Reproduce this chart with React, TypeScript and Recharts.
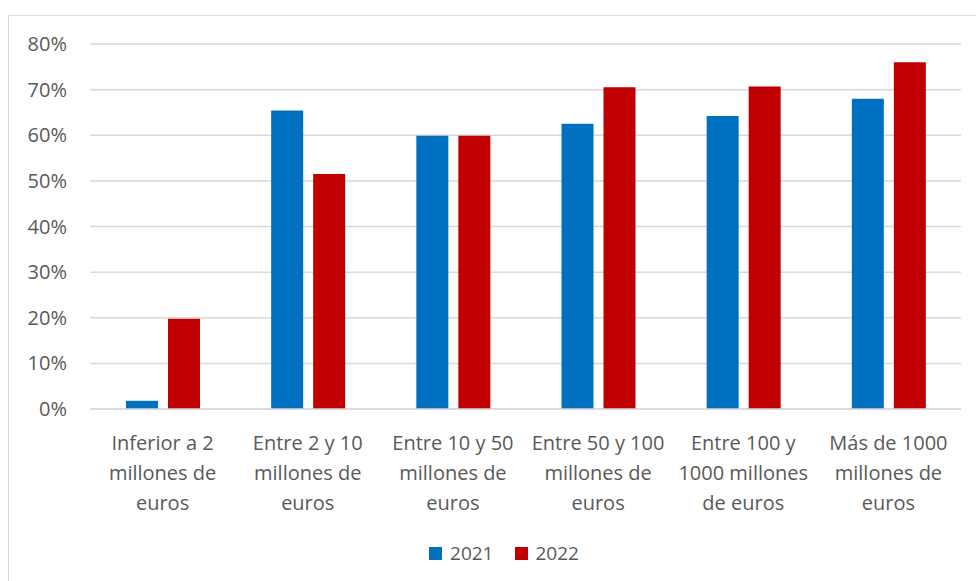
import { BarChart, Bar, XAxis, YAxis, CartesianGrid, Legend } from 'recharts';

const categories = [
  'Inferior a 2\nmillones de\neuros',
  'Entre 2 y 10\nmillones de\neuros',
  'Entre 10 y 50\nmillones de\neuros',
  'Entre 50 y 100\nmillones de\neuros',
  'Entre 100 y\n1000 millones\nde euros',
  'Más de 1000\nmillones de\neuros',
];
const values2021 = [1.8, 65.4, 59.9, 62.5, 64.2, 68.0];
const values2022 = [19.8, 51.5, 59.9, 70.5, 70.7, 76.0];
const yTicks = [0, 10, 20, 30, 40, 50, 60, 70, 80];

const FONT = '"Open Sans", sans-serif';
const TEXT = '#595959';

const data = categories.map((name, i) => ({
  name,
  y2021: values2021[i],
  y2022: values2022[i],
}));

// multi-line category labels
function CategoryTick(props: any) {
  const { x, y, payload } = props;
  const lines = String(payload.value).split('\n');
  return (
    <text x={x} y={y} textAnchor="middle" fill={TEXT} fontSize={20} fontFamily={FONT}>
      {lines.map((line, i) => (
        <tspan key={i} x={x} dy={i === 0 ? 41 : 30}>
          {line}
        </tspan>
      ))}
    </text>
  );
}

function LegendContent(props: any) {
  const { payload } = props;
  return (
    <div style={{ display: 'flex', justifyContent: 'center', alignItems: 'center', height: 20 }}>
      {payload.map((entry: any, i: number) => (
        <div key={i} style={{ display: 'flex', alignItems: 'center', marginLeft: i ? 21 : 0 }}>
          <span style={{ width: 13, height: 13, background: entry.color, display: 'inline-block', marginRight: 8 }} />
          <span style={{ color: TEXT, fontSize: 19, fontFamily: FONT, lineHeight: '20px' }}>{entry.value}</span>
        </div>
      ))}
    </div>
  );
}

export default function App() {
  return (
    <div style={{ position: 'fixed', left: 0, top: 0, width: 976, height: 581, overflow: 'hidden', background: '#fff' }}>
      <div
        style={{
          position: 'absolute',
          left: 8,
          top: 15,
          width: 990,
          height: 600,
          border: '1px solid #d9d9d9',
          background: '#fff',
        }}
      >
        <BarChart
          width={967}
          height={565}
          data={data}
          margin={{ top: 28, right: 15, bottom: 42, left: 0 }}
          barSize={32}
          barGap={10}
        >
          <CartesianGrid vertical={false} stroke="#d9d9d9" strokeWidth={1.5} />
          <XAxis
            dataKey="name"
            axisLine={{ stroke: '#d9d9d9', strokeWidth: 1.5 }}
            tickLine={false}
            tickSize={0}
            tickMargin={0}
            height={130}
            interval={0}
            tick={<CategoryTick />}
          />
          <YAxis
            domain={[0, 80]}
            ticks={yTicks}
            axisLine={false}
            tickLine={false}
            tickSize={0}
            tickMargin={23}
            width={81}
            tickFormatter={(v) => `${v}%`}
            tick={{ fill: TEXT, fontSize: 20, fontFamily: FONT }}
          />
          <Legend
            verticalAlign="middle"
            layout="horizontal"
            wrapperStyle={{ left: 0, top: 527, width: 990 }}
            content={<LegendContent />}
          />
          <Bar dataKey="y2021" name="2021" fill="#0070C0" isAnimationActive={false} />
          <Bar dataKey="y2022" name="2022" fill="#C00000" isAnimationActive={false} />
        </BarChart>
      </div>
    </div>
  );
}
